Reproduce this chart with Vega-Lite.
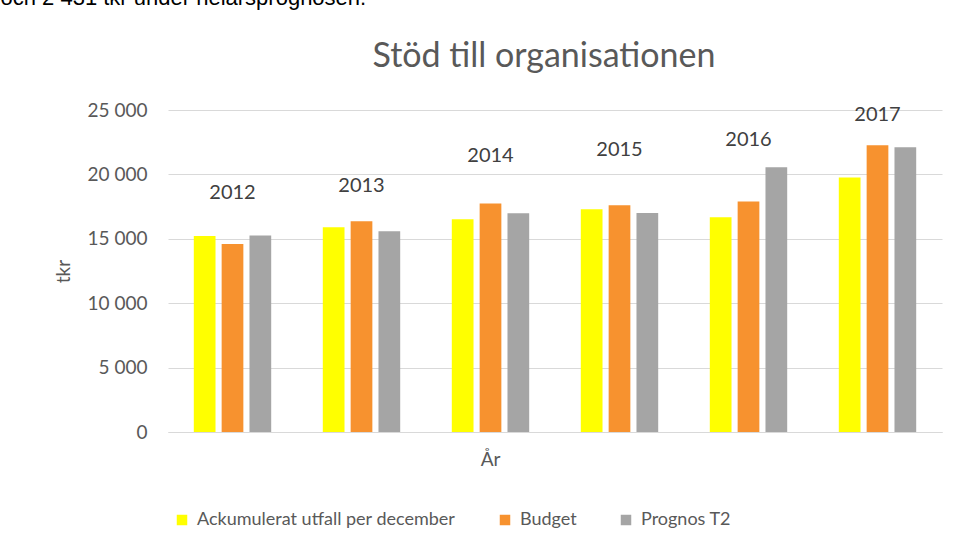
{
  "$schema": "https://vega.github.io/schema/vega-lite/v6.json",
  "width": 774,
  "height": 322,
  "autosize": {"type": "none"},
  "padding": {"left": 168, "top": 110, "right": 16, "bottom": 125},
  "background": "white",
  "config": {
    "font": "Lato",
    "view": {"stroke": null},
    "axis": {"labelColor": "#595959", "titleColor": "#595959", "titleFontWeight": "normal"}
  },
  "title": {
    "text": "Stöd till organisationen",
    "font": "Lato",
    "fontSize": 34,
    "fontWeight": "normal",
    "color": "#595959",
    "anchor": "middle",
    "dx": -11,
    "offset": -88
  },
  "datasets": {
    "bars": [
      {"year": "2012", "series": "Ackumulerat utfall per december", "tkr": 15220},
      {"year": "2012", "series": "Budget", "tkr": 14600},
      {"year": "2012", "series": "Prognos T2", "tkr": 15250},
      {"year": "2013", "series": "Ackumulerat utfall per december", "tkr": 15890},
      {"year": "2013", "series": "Budget", "tkr": 16360},
      {"year": "2013", "series": "Prognos T2", "tkr": 15580},
      {"year": "2014", "series": "Ackumulerat utfall per december", "tkr": 16510},
      {"year": "2014", "series": "Budget", "tkr": 17750},
      {"year": "2014", "series": "Prognos T2", "tkr": 16980},
      {"year": "2015", "series": "Ackumulerat utfall per december", "tkr": 17300},
      {"year": "2015", "series": "Budget", "tkr": 17600},
      {"year": "2015", "series": "Prognos T2", "tkr": 17000},
      {"year": "2016", "series": "Ackumulerat utfall per december", "tkr": 16680},
      {"year": "2016", "series": "Budget", "tkr": 17900},
      {"year": "2016", "series": "Prognos T2", "tkr": 20560},
      {"year": "2017", "series": "Ackumulerat utfall per december", "tkr": 19750},
      {"year": "2017", "series": "Budget", "tkr": 22260},
      {"year": "2017", "series": "Prognos T2", "tkr": 22100}
    ],
    "labels": [
      {"year": "2012", "tkr": 18540},
      {"year": "2013", "tkr": 19100},
      {"year": "2014", "tkr": 21400},
      {"year": "2015", "tkr": 21900},
      {"year": "2016", "tkr": 22700},
      {"year": "2017", "tkr": 24600}
    ]
  },
  "encoding": {
    "x": {
      "field": "year",
      "type": "nominal",
      "scale": {"paddingInner": 0.4, "paddingOuter": 0.2},
      "axis": {
        "title": "År",
        "labels": false,
        "ticks": false,
        "domainColor": "#D9D9D9",
        "titleFontSize": 19,
        "titleX": 322,
        "titleY": 18,
        "titleBaseline": "top"
      }
    }
  },
  "layer": [
    {
      "data": {"name": "bars"},
      "mark": {"type": "bar"},
      "encoding": {
        "xOffset": {
          "field": "series",
          "type": "nominal",
          "scale": {"paddingInner": 0.22, "paddingOuter": 0}
        },
        "y": {
          "field": "tkr",
          "type": "quantitative",
          "scale": {"domain": [0, 25000], "nice": false},
          "axis": {
            "title": "tkr",
            "values": [0, 5000, 10000, 15000, 20000, 25000],
            "labelExpr": "replace(format(datum.value, ','), ',', ' ')",
            "labelFontSize": 19,
            "labelPadding": 21,
            "ticks": false,
            "domain": false,
            "gridColor": "#D9D9D9",
            "titleFontSize": 19,
            "titlePadding": 14
          }
        },
        "color": {
          "field": "series",
          "type": "nominal",
          "scale": {
            "domain": ["Ackumulerat utfall per december", "Budget", "Prognos T2"],
            "range": ["#FFFF00", "#F7922F", "#A5A5A5"]
          },
          "legend": {
            "title": null,
            "orient": "none",
            "direction": "horizontal",
            "legendX": 5,
            "legendY": 401,
            "symbolType": "square",
            "symbolSize": 110,
            "symbolStrokeWidth": 0,
            "symbolOpacity": 1,
            "labelFontSize": 18,
            "labelColor": "#595959",
            "labelOffset": 6,
            "columnPadding": 40,
            "labelLimit": 400
          }
        }
      }
    },
    {
      "data": {"name": "labels"},
      "mark": {"type": "text", "fontSize": 20, "color": "#404040", "baseline": "middle"},
      "encoding": {
        "y": {
          "field": "tkr",
          "type": "quantitative",
          "scale": {"domain": [0, 25000], "nice": false},
          "axis": {
            "orient": "right",
            "title": "och 2 431 tkr under helårsprognosen.",
            "labels": false,
            "ticks": false,
            "domain": false,
            "grid": false,
            "titleAngle": 0,
            "titleAlign": "left",
            "titleBaseline": "alphabetic",
            "titleFont": "Liberation Sans",
            "titleFontSize": 22,
            "titleColor": "#000000",
            "titleX": -942,
            "titleY": -106
          }
        },
        "text": {"field": "year"}
      }
    }
  ],
  "resolve": {"scale": {"y": "independent"}}
}
